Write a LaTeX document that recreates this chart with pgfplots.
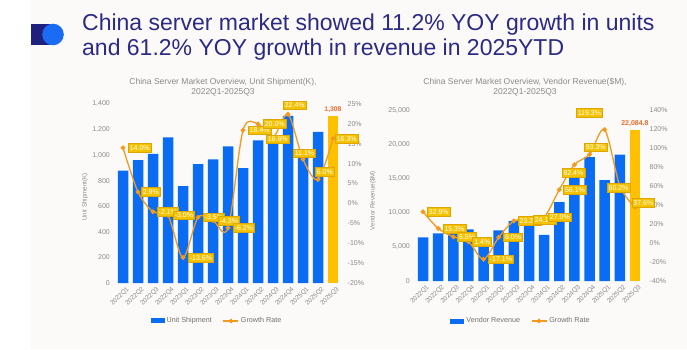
\documentclass[border=0pt]{standalone}
\usepackage{fontspec}
\setmainfont{Liberation Sans}
\usepackage{pgfplots}
\pgfplotsset{compat=1.18}
\usepackage{pgfplotstable}

\definecolor{bgcol}{HTML}{FBFAF8}
\definecolor{barblue}{HTML}{0A6CF2}
\definecolor{baryellow}{HTML}{FFC000}
\definecolor{lineorange}{HTML}{F39A1E}
\definecolor{lblfill}{HTML}{F5C200}
\definecolor{lbldraw}{HTML}{DDA600}
\definecolor{valred}{HTML}{F26A2A}
\definecolor{navy}{HTML}{2B2A85}
\definecolor{iconnavy}{HTML}{1F1F7E}
\definecolor{iconblue}{HTML}{1A6CF5}
\definecolor{tickgray}{HTML}{8A8A8A}
\definecolor{titlegray}{HTML}{8A8A8A}
\definecolor{legendgray}{HTML}{707070}

% growth rate tables: x, growth, label shift dx, dy
\pgfplotstableread{
x g dx dy
0 14.0 5 0
1 2.9 3 0
2 -2.1 4 0
3 -3.0 5 0
4 -13.6 5 0
5 -3.5 5 0
6 -4.3 5 0
7 -6.2 5 0
8 18.4 5 0
9 20.0 5 0
10 16.6 -7 -2
11 22.4 -5 9
12 11.1 -10 6
13 6.0 -3 7.5
14 16.3 2 0
}\growthA

\pgfplotstableread{
x g dx dy
0 32.9 4 0
1 15.3 4.5 0
2 6.5 4 0
3 1.4 4 0
4 -17.1 4.5 0
5 6.0 4.5 0
6 23.2 4 0
7 24.1 4 0
8 27.0 4 0
9 56.1 4 0
10 82.4 -12.7 -8
11 93.3 -5.5 7
12 119.3 -28.7 17
13 60.2 -13 -2
14 37.6 -3.3 4.5
}\growthB

\pgfplotsset{
  baseax/.style={
    scale only axis, clip=false,
    xmin=-0.5, xmax=14.5,
    major tick length=0pt,
    axis line style={draw=none},
    scaled y ticks=false,
    /pgf/number format/assume math mode=true,
    /pgf/number format/1000 sep={,},
    tick label style={text=tickgray, font=\fontsize{7}{8}\selectfont},
  },
  barax/.style={
    baseax,
    xtick={0,...,14},
    xticklabels={2022Q1,2022Q2,2022Q3,2022Q4,2023Q1,2023Q2,2023Q3,2023Q4,2024Q1,2024Q2,2024Q3,2024Q4,2025Q1,2025Q2,2025Q3},
    xticklabel style={xshift=3pt, yshift=-3pt, rotate=45, anchor=north east, inner sep=0pt, font=\fontsize{6.5}{7}\selectfont},
    yticklabel style={anchor=east, inner sep=0pt, xshift=-5.5pt},
    ylabel style={anchor=center, font=\fontsize{6.2}{7}\selectfont, text=tickgray},
    legend style={draw=none, fill=none, font=\fontsize{7.2}{8}\selectfont, text=legendgray,
      legend columns=2, anchor=center, inner sep=0pt,
      /tikz/every even column/.append style={column sep=9pt}},
    legend cell align=left,
  },
  lineax/.style={
    baseax,
    axis x line=none, xtick=\empty,
    axis y line*=right,
    yticklabel={\pgfmathprintnumber{\tick}\%},
    yticklabel style={anchor=west, inner sep=0pt, xshift=7pt},
  },
  growthline/.style={lineorange, line width=1.3pt, smooth, mark=*, mark size=1.7pt,
    mark options={fill=lineorange, draw=lineorange}},
  growthlabels/.style={draw=none, mark=none,
    visualization depends on={\thisrow{dx} \as \ldx},
    visualization depends on={\thisrow{dy} \as \ldy},
    nodes near coords={\pgfmathprintnumber[fixed,fixed zerofill,precision=1]{\pgfplotspointmeta}\%},
    nodes near coords style={anchor=west, fill=lblfill, draw=lbldraw, line width=0.6pt,
      text=white, font=\fontsize{7}{8}\selectfont, inner xsep=1.5pt, inner ysep=1.8pt,
      text height=5.1pt, text depth=0pt, xshift=\ldx pt, yshift=\ldy pt}},
  legline/.style={lineorange, line width=1.2pt, mark=*, mark size=1.6pt,
    mark options={fill=lineorange, draw=lineorange},
    legend image code/.code={\draw[##1, mark repeat=2, mark phase=2] plot coordinates {(0pt,0pt) (7.5pt,0pt) (15pt,0pt)};}},
}

\begin{document}
\begin{tikzpicture}[x=1pt,y=1pt]
\path[use as bounding box] (0,0) rectangle (687,349);
\fill[white] (0,0) rectangle (687,349);
\fill[bgcol] (31,0) rectangle (687,349);
% header
\fill[iconnavy] (31,304) rectangle (50,325);
\fill[iconblue] (53,314.5) circle (10.8);
\node[anchor=base west, inner sep=0pt, text=navy, font=\fontsize{23}{25}\selectfont] at (82,319) {China server market showed 11.2\% YOY growth in units};
\node[anchor=base west, inner sep=0pt, text=navy, font=\fontsize{23}{25}\selectfont] at (82,294) {and 61.2\% YOY growth in revenue in 2025YTD};
% chart titles
\node[align=center, text=titlegray, font=\fontsize{8.5}{10.5}\selectfont] at (223,262) {China Server Market Overview, Unit Shipment(K),\\2022Q1-2025Q3};
\node[align=center, text=titlegray, font=\fontsize{8.5}{10.5}\selectfont] at (525,262) {China Server Market Overview, Vendor Revenue(\$M),\\2022Q1-2025Q3};

% ---------- left chart ----------
\begin{axis}[barax, at={(115.5pt,66pt)}, anchor=south west, width=225pt, height=179pt,
  ymin=0, ymax=1400, ytick={0,200,...,1400},
  ylabel={Unit Shipment(K)}, ylabel style={at={(axis description cs:-0.1356,0.48)}},
  legend style={at={(axis description cs:0.451,-0.212)}}]
\addplot[ybar, bar shift=0pt, bar width=10.5pt, fill=barblue, draw=none,
  legend image code/.code={\fill[barblue] (0pt,-2.5pt) rectangle (14pt,2.5pt);}]
  coordinates {(0,878) (1,962) (2,1009) (3,1139) (4,758) (5,929) (6,966) (7,1068)
               (8,898) (9,1115) (10,1126) (11,1308) (12,998) (13,1182)};
\addlegendentry{Unit Shipment}
\addlegendimage{legline}
\addlegendentry{Growth Rate}
\addplot[ybar, bar shift=0pt, bar width=10.5pt, fill=baryellow, draw=none, forget plot,
  nodes near coords, nodes near coords style={text=valred, font=\bfseries\fontsize{6.8}{7}\selectfont, anchor=south, inner sep=0pt, yshift=3pt}]
  coordinates {(14,1308)};
\end{axis}
\begin{axis}[lineax, at={(115.5pt,66pt)}, anchor=south west, width=225pt, height=179pt,
  ymin=-20, ymax=25, ytick={-20,-15,...,25}]
\addplot[growthline] table[x=x, y=g] {\growthA};
\addplot[growthlabels] table[x=x, y=g] {\growthA};
\end{axis}

% ---------- right chart ----------
\begin{axis}[barax, at={(415.5pt,68pt)}, anchor=south west, width=227pt, height=171pt,
  ymin=0, ymax=25000, ytick={0,5000,...,25000},
  ylabel={Vendor Revenue(\$M)}, ylabel style={at={(axis description cs:-0.187,0.47)}},
  legend style={at={(axis description cs:0.465,-0.234)}}]
\addplot[ybar, bar shift=0pt, bar width=10.5pt, fill=barblue, draw=none,
  legend image code/.code={\fill[barblue] (0pt,-2.5pt) rectangle (14pt,2.5pt);}]
  coordinates {(0,6390) (1,6970) (2,7143) (3,7550) (4,5297) (5,7388) (6,8800) (7,9370)
               (8,6727) (9,11533) (10,16050) (11,18112) (12,14752) (13,18476)};
\addlegendentry{Vendor Revenue}
\addlegendimage{legline}
\addlegendentry{Growth Rate}
\addplot[ybar, bar shift=0pt, bar width=10.5pt, fill=baryellow, draw=none, forget plot,
  nodes near coords, nodes near coords style={text=valred, font=\bfseries\fontsize{7}{7}\selectfont, anchor=south, inner sep=0pt, yshift=3pt}]
  coordinates {(14,22084.8)};
\end{axis}
\begin{axis}[lineax, at={(415.5pt,68pt)}, anchor=south west, width=227pt, height=171pt,
  ymin=-40, ymax=140, ytick={-40,-20,...,140}]
\addplot[growthline] table[x=x, y=g] {\growthB};
\addplot[growthlabels] table[x=x, y=g] {\growthB};
\end{axis}
\end{tikzpicture}
\end{document}
